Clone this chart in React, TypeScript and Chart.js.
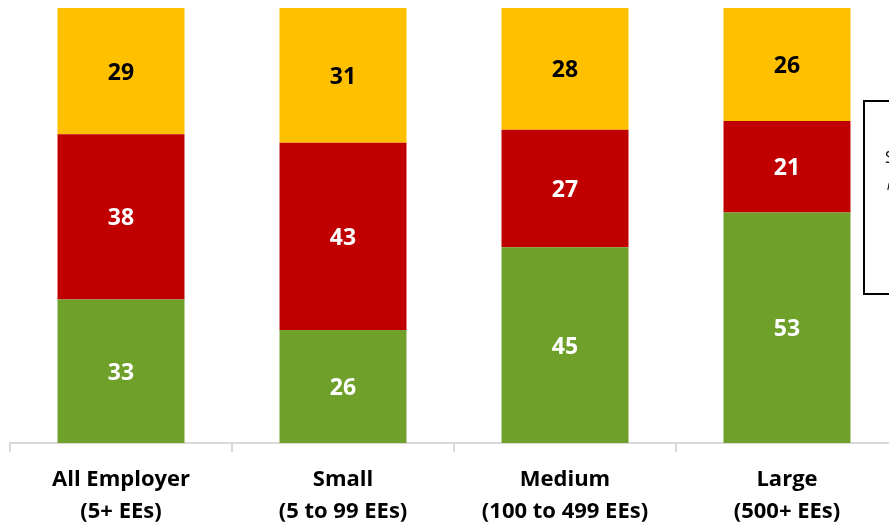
import React, { useEffect, useRef } from "react";
import { Chart, registerables } from "chart.js";

Chart.register(...registerables);

const categories: string[][] = [
  ["All Employer", "(5+ EEs)"],
  ["Small", "(5 to 99 EEs)"],
  ["Medium", "(100 to 499 EEs)"],
  ["Large", "(500+ EEs)"],
];
const greenValues = [33, 26, 45, 53];
const redValues = [38, 43, 27, 21];
const yellowValues = [29, 31, 28, 26];
const legendLines = ["Source:", "note"];

const FONT = "'Open Sans', Lato, sans-serif";

const labelPlugin = {
  id: "valueLabels",
  afterDatasetsDraw(chart: any) {
    const ctx = chart.ctx;
    ctx.save();
    ctx.font = `bold 23px ${FONT}`;
    ctx.textAlign = "center";
    ctx.textBaseline = "middle";
    chart.data.datasets.forEach((ds: any, i: number) => {
      const meta = chart.getDatasetMeta(i);
      meta.data.forEach((bar: any, j: number) => {
        const v = ds.data[j];
        const top = Math.min(bar.y, bar.base);
        const bottom = Math.max(bar.y, bar.base);
        ctx.fillStyle = ds.labelColor;
        ctx.fillText(String(v), bar.x, (top + bottom) / 2 + 2);
      });
    });
    ctx.restore();
  },
  afterDraw(chart: any) {
    const ctx = chart.ctx;
    ctx.save();
    ctx.strokeStyle = "#000000";
    ctx.lineWidth = 2;
    ctx.fillStyle = "#ffffff";
    ctx.fillRect(864, 101, 200, 193);
    ctx.strokeRect(864, 101, 200, 193);
    ctx.fillStyle = "#000000";
    ctx.font = `16px ${FONT}`;
    ctx.textAlign = "left";
    ctx.textBaseline = "middle";
    ctx.fillText(legendLines[0], 885, 158);
    ctx.font = `italic 12px ${FONT}`;
    ctx.fillText(legendLines[1], 887, 187);
    ctx.restore();
  },
};

export default function App() {
  const ref = useRef<HTMLCanvasElement | null>(null);
  useEffect(() => {
    if (!ref.current) return;
    const chart = new Chart(ref.current, {
      type: "bar",
      data: {
        labels: categories,
        datasets: [
          { label: "Green", data: greenValues, backgroundColor: "#6EA02A", labelColor: "#ffffff" } as any,
          { label: "Red", data: redValues, backgroundColor: "#C00000", labelColor: "#ffffff" } as any,
          { label: "Yellow", data: yellowValues, backgroundColor: "#FFC000", labelColor: "#000000" } as any,
        ],
      },
      options: {
        responsive: false,
        animation: false,
        layout: { padding: { left: 10, right: 12, top: 8, bottom: 0 } },
        datasets: { bar: { barPercentage: 0.572, categoryPercentage: 1, borderWidth: 0 } },
        plugins: { legend: { display: false }, tooltip: { enabled: false } },
        scales: {
          x: {
            stacked: true,
            grid: {
              display: true,
              drawOnChartArea: false,
              drawTicks: true,
              tickLength: 9,
              color: "#d9d9d9",
              lineWidth: 2,
              offset: true,
            },
            border: { display: true, color: "#d9d9d9", width: 2 },
            ticks: {
              color: "#000000",
              font: { family: FONT, size: 22, weight: "bold", lineHeight: 1.45 },
              padding: 12,
              maxRotation: 0,
              autoSkip: false,
            },
            afterFit(scale: any) {
              scale.height = 82;
            },
          },
          y: {
            stacked: true,
            display: false,
            min: 0,
            max: 100,
          },
        },
      },
      plugins: [labelPlugin],
    });
    return () => chart.destroy();
  }, []);
  return (
    <div style={{ position: "fixed", left: 0, top: 0, width: 889, height: 525, overflow: "hidden", background: "#fff" }}>
      <canvas ref={ref} width={910} height={525} style={{ display: "block" }} />
    </div>
  );
}
